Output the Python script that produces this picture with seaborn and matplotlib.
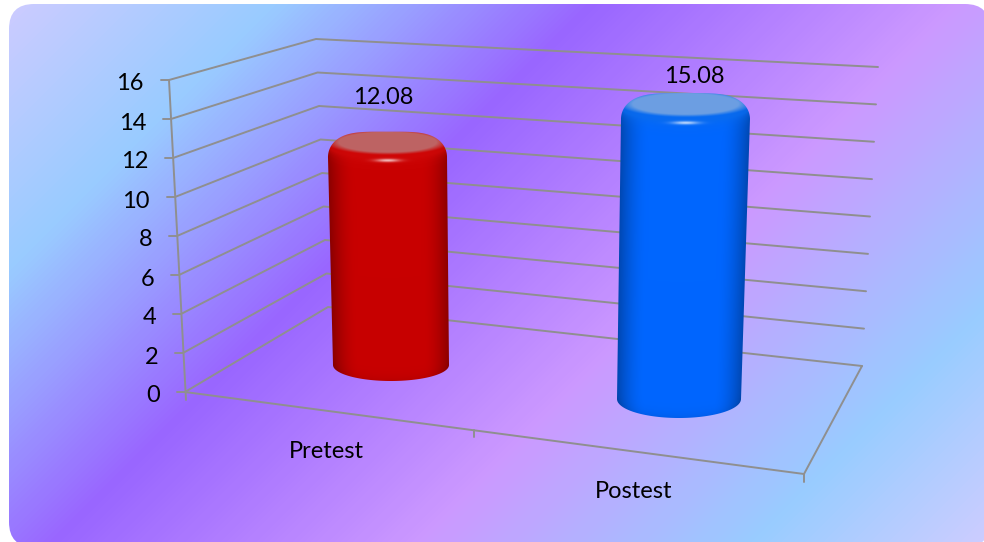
import numpy as np
import pandas as pd
import matplotlib
matplotlib.use("Agg")
import matplotlib.pyplot as plt
from matplotlib.colors import LinearSegmentedColormap, to_rgb
from matplotlib.patches import FancyBboxPatch, PathPatch
from matplotlib.path import Path
from matplotlib.transforms import Transform
import seaborn as sns

# Chart data
categories = ["Pretest", "Postest"]
scores = [12.08, 15.08]
y_ticks = [0, 2, 4, 6, 8, 10, 12, 14, 16]
bar_colors = ["#C80000", "#0066FF"]
rim_colors = ["#D00808", "#0A6CEE"]
cap_colors = ["#BE6464", "#6C9FE2"]

W, H = 984, 542
sns.set_theme(style="white")
plt.rcParams["font.family"] = ["Lato", "DejaVu Sans"]
LABEL_SIZE = 17
LINE_COLOR = "#8F8F8F"

fig = plt.figure(figsize=(W / 100, H / 100), dpi=100, facecolor="white")
ax = fig.add_axes([0, 0, 1, 1])


def lerp(a, b, t):
    return a + (b - a) * t


# Corners of the 3D box in screen pixels, at the value 0 and the value 16
FRONT_LEFT = ((185, 392), (169, 80))
BACK_LEFT = ((328, 307), (316, 39))
BACK_RIGHT = ((862, 366), (878, 67))
FRONT_RIGHT = (804, 474)


def corner(c, v):
    t = v / y_ticks[-1]
    return lerp(c[0][0], c[1][0], t), lerp(c[0][1], c[1][1], t)


# Wall and floor lines of the box
rows = []


def add_line(pts):
    line = len({r[0] for r in rows})
    rows.extend((line, px, py) for px, py in pts)


for v in y_ticks:
    fx, fy = corner(FRONT_LEFT, v)
    add_line([(fx - 8, fy), (fx, fy), corner(BACK_LEFT, v), corner(BACK_RIGHT, v)])
add_line([corner(FRONT_LEFT, 16), (FRONT_LEFT[0][0] + 1, FRONT_LEFT[0][1] + 8)])
add_line([FRONT_LEFT[0], FRONT_RIGHT, BACK_RIGHT[0]])
add_line([FRONT_RIGHT, (FRONT_RIGHT[0], FRONT_RIGHT[1] + 8)])
mid_x = 474
mid_y = lerp(FRONT_LEFT[0][1], FRONT_RIGHT[1], (mid_x - FRONT_LEFT[0][0]) / (FRONT_RIGHT[0] - FRONT_LEFT[0][0]))
add_line([(mid_x, mid_y), (mid_x, mid_y + 7)])
frame = pd.DataFrame(rows, columns=["line", "px", "py"])
sns.lineplot(data=frame, x="px", y="py", units="line", estimator=None, sort=False,
             color=LINE_COLOR, linewidth=1.4, legend=False, ax=ax, zorder=3)

# Where each cylinder stands, and how it leans and widens as it rises
BASE_X = [391.0, 679.0]
BASE_Y = [365.0, 399.0]
BASE_HALF = [58.0, 62.0]
LEAN = [-0.29, 0.43]
RISE = [18.2, 19.36]
FLARE = [0.125, 0.165]
TOP_SEMI = [13.5, 14.0]
BOTTOM_SEMI = [16.0, 19.0]
SHOULDER = 12.0
BAR_WIDTH = 0.38


def project(i, v, side=0.0):
    v = np.asarray(v, float)
    return (BASE_X[i] + LEAN[i] * v + side * (BASE_HALF[i] + FLARE[i] * v),
            BASE_Y[i] - RISE[i] * v)


class BarProjection(Transform):
    """Maps a bar's (category position, value) to the screen pixels of the box."""
    input_dims = output_dims = 2

    def __init__(self, i):
        super().__init__()
        self.i = i

    def transform_non_affine(self, xy):
        xy = np.asarray(xy, float)
        side = (xy[:, 0] - self.i) / 0.416 * 2
        px, py = project(self.i, xy[:, 1], side)
        return np.column_stack([px, py])


# Bars from the data; each is moved onto the floor of the box
sns.barplot(x=categories, y=scores, hue=categories, palette=bar_colors, order=categories,
            hue_order=categories, width=BAR_WIDTH, dodge=False, legend=False, saturation=1, ax=ax)
heights = []
for i, patch in enumerate(ax.patches):
    heights.append(patch.get_height())
    patch.set_transform(BarProjection(i) + ax.transData)
    patch.set_zorder(4)
    patch.set_linewidth(0)

ax.set_axis_off()


def cylinder_shape(i, v):
    tx, ty = project(i, v)
    bx, by = project(i, 0)
    top_half = project(i, v, 1.0)[0] - tx
    bot_half = project(i, 0, 1.0)[0] - bx
    # the top is a squarish curve so the shoulders fall away softly
    a = np.linspace(np.pi, 0, 120)
    tops = np.column_stack([tx + top_half * np.sign(np.cos(a)) * np.abs(np.cos(a)) ** 0.5,
                            ty + SHOULDER - (TOP_SEMI[i] + SHOULDER) * np.abs(np.sin(a))])
    a = np.linspace(0, -np.pi, 80)
    bots = np.column_stack([bx + bot_half * np.cos(a), by - BOTTOM_SEMI[i] * np.sin(a)])
    pts = np.vstack([tops, bots, tops[:1]])
    return Path(pts, closed=True), (tx, ty, top_half), (bx, by, bot_half)


def cylinder_image(i, v):
    path, (tx, ty, th), (bx, by, bh) = cylinder_shape(i, v)
    x0, x1 = min(tx - th, bx - bh) - 3, max(tx + th, bx + bh) + 3
    y0, y1 = ty - TOP_SEMI[i] - 3, by + BOTTOM_SEMI[i] + 3
    xs = np.arange(np.floor(x0), np.ceil(x1), 0.5)
    ys = np.arange(np.floor(y0), np.ceil(y1), 0.5)
    X, Y = np.meshgrid(xs, ys)
    t = np.clip((Y - ty) / (by - ty), 0, 1)
    side = (X - lerp(tx, bx, t)) / lerp(th, bh, t)
    s2 = np.clip(1 - side ** 2, 0, 1)

    base = np.array(to_rgb(bar_colors[i]))
    rim = np.array(to_rgb(rim_colors[i]))
    cap = np.array(to_rgb(cap_colors[i]))
    img = np.ones(X.shape + (3,)) * base

    # darkened edges of the round body
    edge = np.clip((np.abs(side) - 0.55) / 0.45, 0, 1) ** 1.8
    img = img * (1 - 0.30 * edge)[..., None]

    # bevel under the top face
    front = ty + TOP_SEMI[i] * np.sqrt(s2)
    bevel = np.exp(-np.clip(Y - front, 0, None) / 6.0)
    img = img + (rim - img) * bevel[..., None] * 0.8

    # flat top face with a soft edge
    cy = ty - TOP_SEMI[i] * 0.25
    r = np.hypot((X - tx) / (th * 0.93), (Y - cy) / (TOP_SEMI[i] * 0.85))
    face = np.clip((1.12 - r) / 0.24, 0, 1)
    img = img + (cap - img) * face[..., None]

    # small highlight on the front of the rim
    hl = np.exp(-((X - tx) / (th * 0.20)) ** 2 - ((Y - (ty + TOP_SEMI[i] + 1.5)) / 1.6) ** 2)
    img = img + (1 - img) * hl[..., None] * 0.75

    # slightly deeper tone along the lower front edge
    low = by + BOTTOM_SEMI[i] * np.sqrt(s2)
    shade = np.exp(-np.clip(low - Y, 0, None) / 5.0)
    img = img * (1 - 0.08 * shade)[..., None]

    im = ax.imshow(np.clip(img, 0, 1), extent=(xs[0], xs[-1] + 0.5, ys[-1] + 0.5, ys[0]),
                   origin="upper", aspect="auto", interpolation="bilinear", zorder=5)
    im.set_clip_path(PathPatch(path, transform=ax.transData))


for i, v in enumerate(heights):
    cylinder_image(i, v)

# Panel with a diagonal multi-stop fill
stops = [(0.00, "#CFCBFF"), (0.18, "#99CCFF"), (0.39, "#9966FF"),
         (0.63, "#CC99FF"), (0.85, "#99CCFF"), (1.00, "#CCCCFF")]
fill = LinearSegmentedColormap.from_list("panel", stops)
gx, gy = np.meshgrid(np.arange(W) + 0.5, np.arange(H) + 0.5)
bg = ax.imshow((gx + gy) / 1526.0, cmap=fill, vmin=0, vmax=1, extent=(0, W, H, 0),
               origin="upper", aspect="auto", zorder=1)
panel = FancyBboxPatch((34, 29), 931, 493, boxstyle="round,pad=25,rounding_size=25",
                       transform=ax.transData, fc="none", ec="none")
ax.add_patch(panel)
bg.set_clip_path(panel)

# Tick labels, value labels and category labels
for v in y_ticks:
    fx, fy = corner(FRONT_LEFT, v)
    ax.text(fx - 25, fy + 4, str(v), ha="right", va="center", fontsize=LABEL_SIZE, color="black", zorder=6)

VALUE_OFFSET = [(-4.5, -48), (8.5, -31)]
for i, v in enumerate(scores):
    tx, ty = project(i, v)
    ax.text(tx + VALUE_OFFSET[i][0], ty + VALUE_OFFSET[i][1], f"{v:.2f}", ha="center", va="center",
            fontsize=LABEL_SIZE, color="black", zorder=6)

CATEGORY_POS = [(326, 452), (634, 491)]
for name, (px, py) in zip(categories, CATEGORY_POS):
    ax.text(px, py, name, ha="center", va="center", fontsize=LABEL_SIZE, color="black", zorder=6)

ax.set_xlim(0, W)
ax.set_ylim(H, 0)
fig.savefig("out.png", dpi=100, facecolor="white")
